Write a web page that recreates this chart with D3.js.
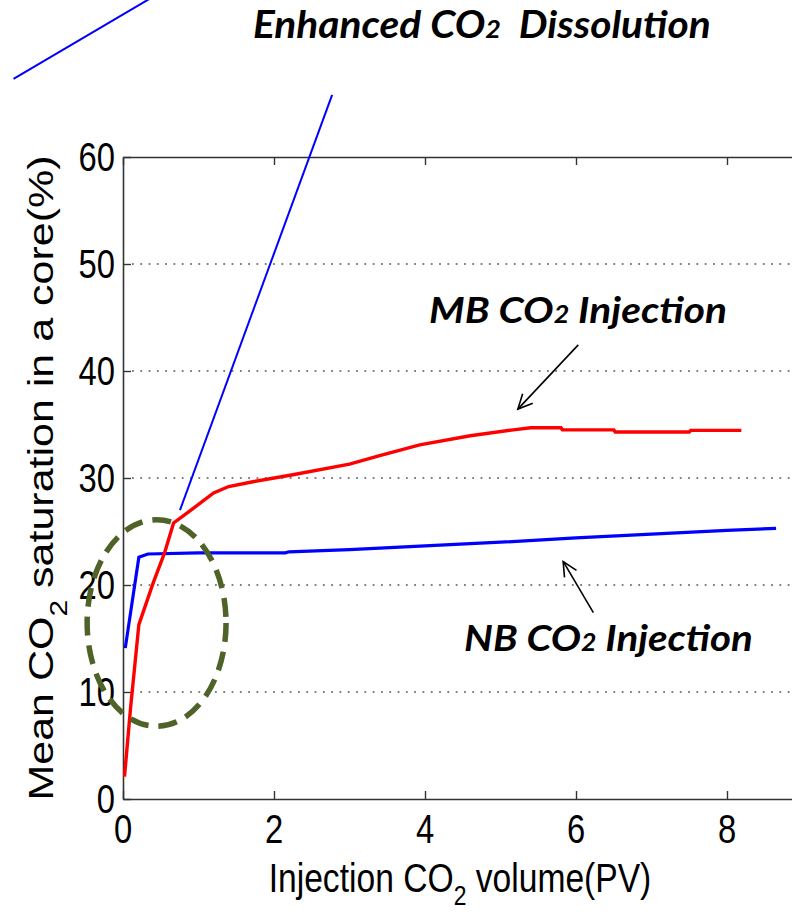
<!DOCTYPE html>
<html>
<head>
<meta charset="utf-8">
<script src="https://cdn.jsdelivr.net/npm/d3@7/dist/d3.min.js"></script>
<style>
  html, body { margin: 0; padding: 0; background: #fff; }
  svg { display: block; }
</style>
</head>
<body>
<svg id="chart" width="792" height="913"></svg>
<script>
// Injected CO2 volume (PV) vs mean CO2 saturation (%), two injection modes
const mbSeries = [
  [0.02, 2.1], [0.10, 8.5], [0.21, 16.3], [0.40, 20.2], [0.55, 23.0],
  [0.67, 25.8], [0.90, 27.0], [1.20, 28.6], [1.40, 29.2], [1.72, 29.65],
  [2.25, 30.3], [3.00, 31.3], [3.40, 32.1], [3.93, 33.1], [4.60, 33.95],
  [5.17, 34.5], [5.40, 34.7], [5.80, 34.7], [5.82, 34.5], [6.50, 34.5],
  [6.52, 34.3], [7.50, 34.3], [7.52, 34.45], [8.19, 34.45]
];
const nbSeries = [
  [0.03, 14.1], [0.21, 22.6], [0.33, 22.9], [1.00, 23.0], [2.15, 23.0],
  [2.20, 23.1], [3.00, 23.3], [4.00, 23.65], [5.00, 24.0], [6.00, 24.4],
  [7.00, 24.75], [8.00, 25.1], [8.65, 25.3]
];
const xTicks = [0, 2, 4, 6, 8, 10];
const yTicks = [0, 10, 20, 30, 40, 50, 60];
const gridValues = [10, 20, 30, 40, 50];

// callouts, in data units
const highlightZone = { cx: 0.445, cy: 16.45, rx: 0.92, ry: 9.65 };
const calloutLines = [
  [[0.755, 27.0], [2.77, 65.8]],
  [[-1.45, 67.3], [0.38, 74.9]]
];
const arrows = [
  { from: [6.03, 42.44], to: [5.23, 36.44] },
  { from: [6.23, 17.42], to: [5.83, 22.2] }
];

const W = 792, H = 913;
const svg = d3.select("#chart");

const x = d3.scaleLinear().domain([0, 10]).range([123, 878]);
const y = d3.scaleLinear().domain([0, 60]).range([799, 157]);

const axisFont = "'Liberation Sans', Arial, Helvetica, sans-serif";
const calloutFont = "Lato, 'Open Sans', sans-serif";
const squeeze = 0.82;

svg.append("defs").append("clipPath").attr("id", "plotClip")
  .append("rect").attr("x", x(0)).attr("y", y(60))
  .attr("width", x(10) - x(0)).attr("height", y(0) - y(60));

// dotted grid
svg.append("g").selectAll("line").data(gridValues).join("line")
  .attr("x1", x(0) + 9).attr("x2", x(10))
  .attr("y1", d => y(d)).attr("y2", d => y(d))
  .attr("stroke", "#555").attr("stroke-width", 1.6)
  .attr("stroke-dasharray", "1.8,6.5");

// axes (ticks inward)
const axisStyle = g => {
  g.selectAll("path.domain").attr("stroke", "#333").attr("stroke-width", 1.6);
  g.selectAll(".tick line").attr("stroke", "#333").attr("stroke-width", 1.4);
  g.selectAll(".tick text").remove();
};
svg.append("g").attr("transform", `translate(0,${y(0)})`)
  .call(d3.axisBottom(x).tickValues(xTicks).tickSizeInner(-8).tickSizeOuter(0))
  .call(axisStyle);
svg.append("g").attr("transform", `translate(0,${y(60)})`)
  .call(d3.axisTop(x).tickValues(xTicks).tickSizeInner(-8).tickSizeOuter(0))
  .call(axisStyle);
svg.append("g").attr("transform", `translate(${x(0)},0)`)
  .call(d3.axisLeft(y).tickValues(yTicks).tickSizeInner(-8).tickSizeOuter(0))
  .call(axisStyle);

// tick labels
svg.append("g").selectAll("text").data(yTicks).join("text")
  .attr("transform", d => `translate(115,${y(d)}) scale(${squeeze},1)`)
  .attr("text-anchor", "end").attr("dy", "0.36em")
  .attr("font-family", axisFont).attr("font-size", 40).attr("fill", "#000")
  .text(d => d);
svg.append("g").selectAll("text").data(xTicks.filter(d => d < 10)).join("text")
  .attr("transform", d => `translate(${x(d)},843) scale(${squeeze},1)`)
  .attr("text-anchor", "middle")
  .attr("font-family", axisFont).attr("font-size", 40).attr("fill", "#000")
  .text(d => d);

// axis titles
const xt = svg.append("text")
  .attr("transform", `translate(460,892) scale(${squeeze},1)`)
  .attr("text-anchor", "middle")
  .attr("font-family", axisFont).attr("font-size", 41).attr("fill", "#000");
xt.append("tspan").text("Injection CO");
xt.append("tspan").attr("dy", 13).attr("font-size", 28).text("2");
xt.append("tspan").attr("dy", -13).text(" volume(PV)");

const yt = svg.append("text")
  .attr("transform", `translate(53,478) scale(${squeeze},1) rotate(-90)`)
  .attr("text-anchor", "middle")
  .attr("font-family", axisFont).attr("font-size", 43).attr("fill", "#000");
yt.append("tspan").text("Mean CO");
yt.append("tspan").attr("dy", 17).attr("font-size", 30).text("2");
yt.append("tspan").attr("dy", -17).text(" saturation in a core(%)");

// series
const line = d3.line().x(d => x(d[0])).y(d => y(d[1]));
const plot = svg.append("g").attr("clip-path", "url(#plotClip)");
plot.append("path").datum(nbSeries).attr("d", line)
  .attr("fill", "none").attr("stroke", "#0000ff").attr("stroke-width", 3.2)
  .attr("stroke-linejoin", "miter");
plot.append("path").datum(mbSeries).attr("d", line)
  .attr("fill", "none").attr("stroke", "#ff0000").attr("stroke-width", 3.4)
  .attr("stroke-linejoin", "miter");

// dashed highlight ellipse
svg.append("ellipse")
  .attr("cx", x(highlightZone.cx)).attr("cy", y(highlightZone.cy))
  .attr("rx", x(highlightZone.rx) - x(0)).attr("ry", y(0) - y(highlightZone.ry))
  .attr("fill", "none").attr("stroke", "#4f6228").attr("stroke-width", 5.5)
  .attr("stroke-dasharray", "19,10");

// blue callout lines
svg.append("g").selectAll("line").data(calloutLines).join("line")
  .attr("x1", d => x(d[0][0])).attr("y1", d => y(d[0][1]))
  .attr("x2", d => x(d[1][0])).attr("y2", d => y(d[1][1]))
  .attr("stroke", "#0000ff").attr("stroke-width", 2);

// arrows with open heads
const ag = svg.append("g").attr("stroke", "#000").attr("stroke-width", 1.6).attr("fill", "none");
arrows.forEach(a => {
  const x1 = x(a.from[0]), y1 = y(a.from[1]), x2 = x(a.to[0]), y2 = y(a.to[1]);
  const ang = Math.atan2(y2 - y1, x2 - x1);
  const L = 16, spread = 0.45;
  ag.append("line").attr("x1", x1).attr("y1", y1).attr("x2", x2).attr("y2", y2);
  ag.append("path").attr("d",
    `M${x2 - L * Math.cos(ang - spread)},${y2 - L * Math.sin(ang - spread)}` +
    `L${x2},${y2}` +
    `L${x2 - L * Math.cos(ang + spread)},${y2 - L * Math.sin(ang + spread)}`);
});

// bold italic callout texts, fitted to their spans
function callout(parts, left, right, baseline, size) {
  const t = svg.append("text")
    .attr("font-family", calloutFont).attr("font-weight", "bold")
    .attr("font-style", "italic").attr("font-size", size).attr("fill", "#000")
    .attr("xml:space", "preserve").style("white-space", "pre");
  parts.forEach(p => {
    const s = t.append("tspan").text(p.text);
    if (p.small) s.attr("font-size", size * 0.66);
  });
  const bb = t.node().getBBox();
  const k = (right - left) / bb.width;
  t.attr("transform", `translate(${left - bb.x * k},${baseline}) scale(${k},1)`);
}
callout([{ text: "Enhanced CO" }, { text: "2", small: true }, { text: "  Dissolution" }], 253, 711, 38, 38);
callout([{ text: "MB CO" }, { text: "2", small: true }, { text: " Injection" }], 429, 727, 323, 37);
callout([{ text: "NB CO" }, { text: "2", small: true }, { text: " Injection" }], 464, 753, 651, 37);
</script>
</body>
</html>
